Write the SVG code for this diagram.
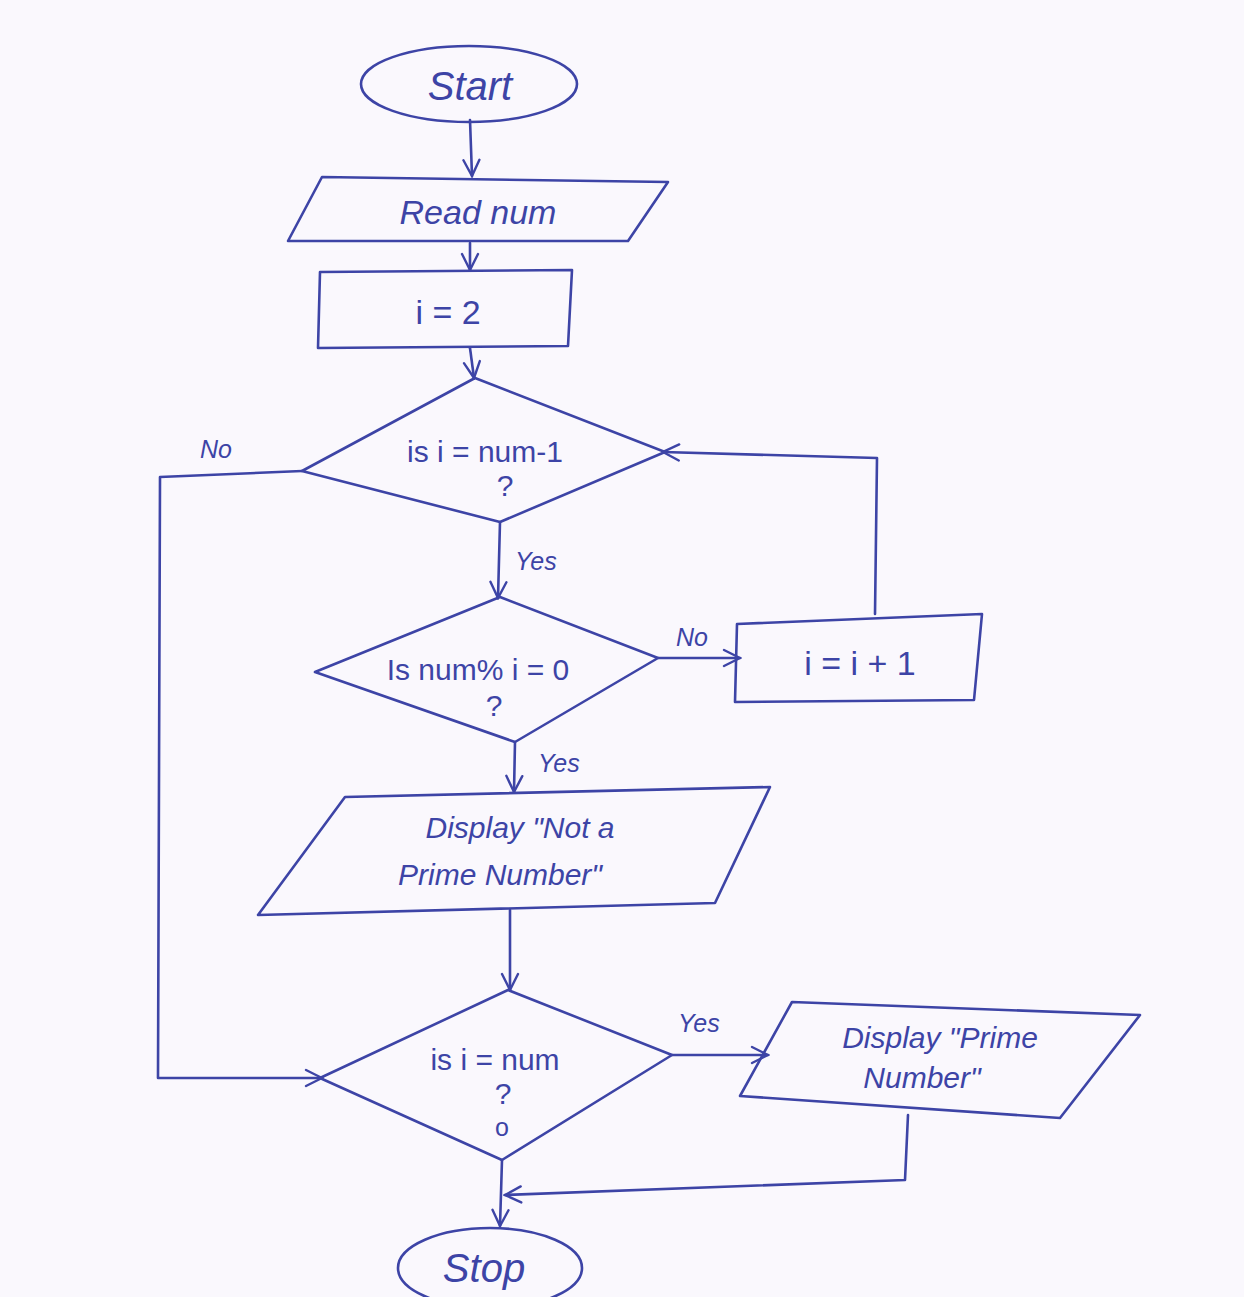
<svg xmlns="http://www.w3.org/2000/svg" width="1244" height="1297" viewBox="0 0 1244 1297">
  <defs>
    <style>
      .ink { fill: none; stroke: #3d44a6; stroke-width: 2.6; stroke-linecap: round; stroke-linejoin: round; }
      .txt { fill: #3d44a6; font-family: "Liberation Sans", "DejaVu Sans", sans-serif; font-style: italic; }
      .big { font-size: 40px; }
      .mid { font-size: 34px; }
      .sm { font-size: 30px; }
      .lbl { font-size: 25px; }
      .math { font-style: normal; }
    </style>
    <marker id="arr" viewBox="0 0 20 20" refX="18" refY="10" markerWidth="20" markerHeight="20" markerUnits="userSpaceOnUse" orient="auto">
      <path d="M2,2 L18,10 L2,18" fill="none" stroke="#3d44a6" stroke-width="2.4" stroke-linecap="round"/>
    </marker>
  </defs>
  <rect width="1244" height="1297" fill="#faf8fd"/>

  <!-- connectors -->
  <g id="connectors">
    <path class="ink" d="M470,120 L472,176" marker-end="url(#arr)"/>
    <path class="ink" d="M470,243 L470,270" marker-end="url(#arr)"/>
    <path class="ink" d="M470,348 L474,378" marker-end="url(#arr)"/>
    <path class="ink" d="M500,522 L498,598" marker-end="url(#arr)"/>
    <path class="ink" d="M515,742 L514,792" marker-end="url(#arr)"/>
    <path class="ink" d="M658,658 L740,658" marker-end="url(#arr)"/>
    <path class="ink" d="M875,614 L877,458 L663,452" marker-end="url(#arr)"/>
    <path class="ink" d="M302,471 L160,477 L158,1078 L322,1078" marker-end="url(#arr)"/>
    <path class="ink" d="M510,910 L510,990" marker-end="url(#arr)"/>
    <path class="ink" d="M672,1055 L768,1055" marker-end="url(#arr)"/>
    <path class="ink" d="M908,1115 L905,1180 L505,1195" marker-end="url(#arr)"/>
    <path class="ink" d="M502,1160 L500,1226" marker-end="url(#arr)"/>
    <text class="txt lbl" x="200" y="458">No</text>
    <text class="txt lbl" x="515" y="570">Yes</text>
    <text class="txt lbl" x="676" y="646">No</text>
    <text class="txt lbl" x="538" y="772">Yes</text>
    <text class="txt lbl" x="678" y="1032">Yes</text>
  </g>

  <g id="start">
    <ellipse class="ink" cx="469" cy="84" rx="108" ry="38"/>
    <text class="txt big" x="470" y="100" text-anchor="middle">Start</text>
  </g>

  <g id="read-num">
    <path class="ink" d="M322,177 L668,182 L628,241 L288,241 Z"/>
    <text class="txt mid" x="478" y="224" text-anchor="middle">Read num</text>
  </g>

  <g id="init-i">
    <path class="ink" d="M320,272 L572,270 L568,346 L318,348 Z"/>
    <text class="txt mid math" x="448" y="324" text-anchor="middle">i = 2</text>
  </g>

  <g id="check-limit">
    <path class="ink" d="M475,378 L665,452 L500,522 L302,471 Z"/>
    <text class="txt sm math" x="485" y="462" text-anchor="middle">is  i = num-1</text>
    <text class="txt sm math" x="505" y="496" text-anchor="middle">?</text>
  </g>

  <g id="check-divisible">
    <path class="ink" d="M500,597 L658,658 L515,742 L315,672 Z"/>
    <text class="txt sm math" x="478" y="680" text-anchor="middle">Is num% i = 0</text>
    <text class="txt sm math" x="494" y="716" text-anchor="middle">?</text>
  </g>

  <g id="increment">
    <path class="ink" d="M737,624 L982,614 L974,700 L735,702 Z"/>
    <text class="txt mid math" x="860" y="675" text-anchor="middle">i = i + 1</text>
  </g>

  <g id="not-prime">
    <path class="ink" d="M345,797 L770,787 L715,903 L258,915 Z"/>
    <text class="txt sm" x="520" y="838" text-anchor="middle">Display "Not a</text>
    <text class="txt sm" x="500" y="885" text-anchor="middle">Prime Number"</text>
  </g>

  <g id="check-equal">
    <path class="ink" d="M508,990 L672,1055 L502,1160 L320,1078 Z"/>
    <text class="txt sm math" x="495" y="1070" text-anchor="middle">is  i = num</text>
    <text class="txt sm math" x="503" y="1104" text-anchor="middle">?</text>
    <text class="txt lbl math" x="502" y="1136" text-anchor="middle">o</text>
  </g>

  <g id="is-prime">
    <path class="ink" d="M792,1002 L1140,1015 L1060,1118 L740,1096 Z"/>
    <text class="txt sm" x="940" y="1048" text-anchor="middle">Display "Prime</text>
    <text class="txt sm" x="922" y="1088" text-anchor="middle">Number"</text>
  </g>

  <g id="stop">
    <ellipse class="ink" cx="490" cy="1268" rx="92" ry="40"/>
    <text class="txt big" x="484" y="1282" text-anchor="middle">Stop</text>
  </g>
</svg>
